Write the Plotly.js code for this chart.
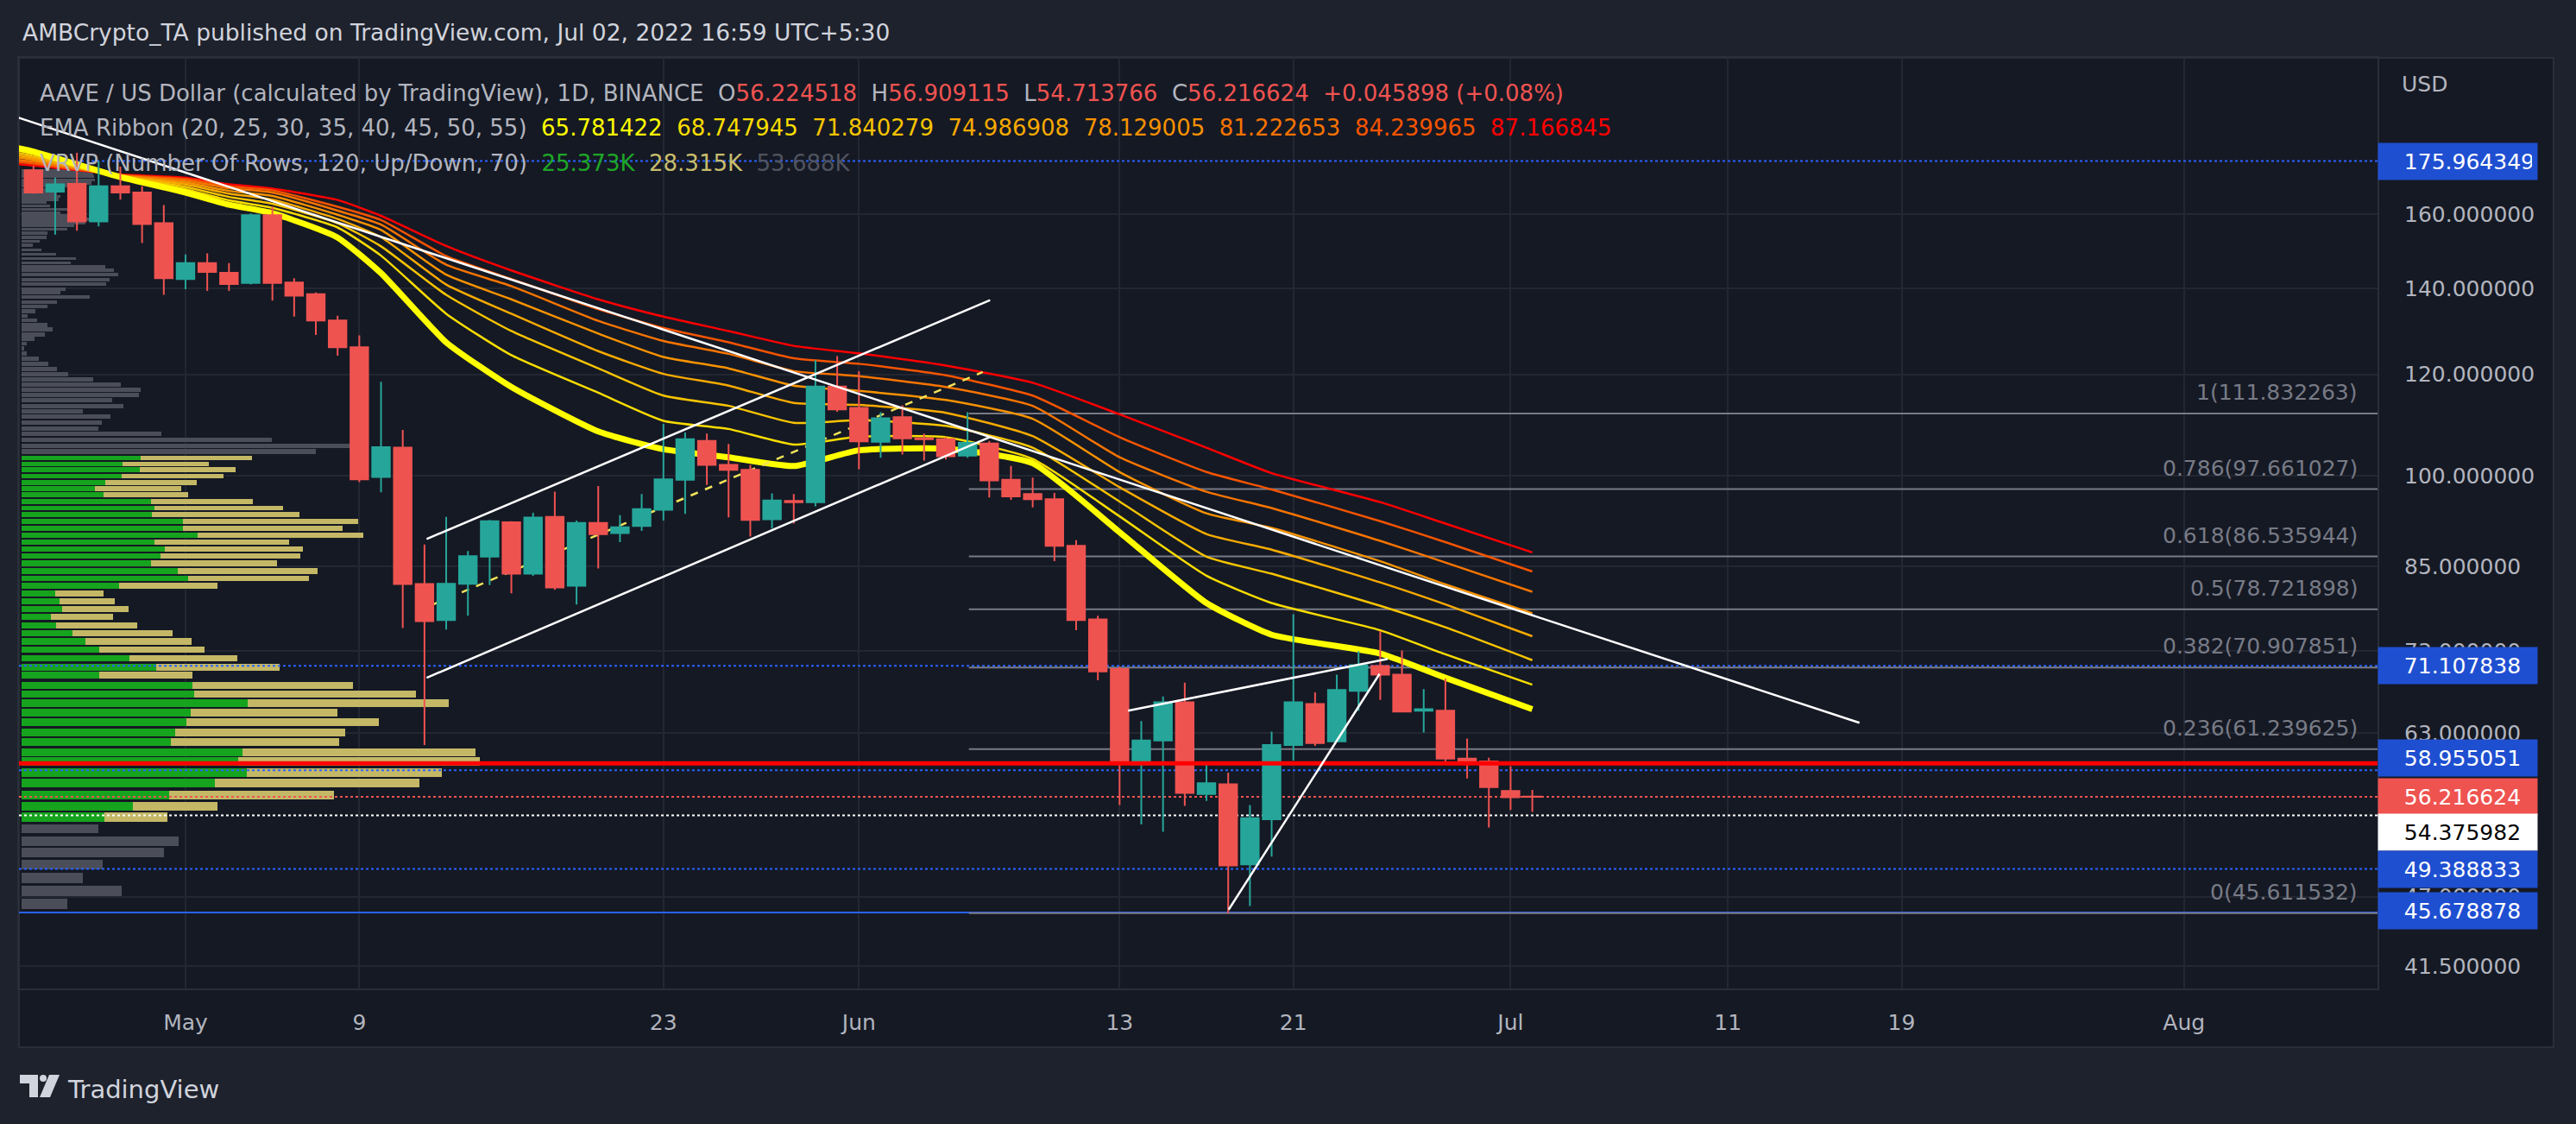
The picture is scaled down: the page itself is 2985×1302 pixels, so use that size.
<!DOCTYPE html>
<html>
<head>
<meta charset="utf-8">
<script src="https://cdn.plot.ly/plotly-3.0.1.min.js"></script>
<style>
  html, body { margin: 0; padding: 0; background: #1e222d; }
  #chart { width: 2985px; height: 1302px; }
</style>
</head>
<body>
<div id="chart"></div>
<script>
// AAVE / USD daily candles
const dates = [
  '2022-04-24','2022-04-25','2022-04-26','2022-04-27','2022-04-28','2022-04-29','2022-04-30',
  '2022-05-01','2022-05-02','2022-05-03','2022-05-04','2022-05-05','2022-05-06','2022-05-07','2022-05-08','2022-05-09','2022-05-10',
  '2022-05-11','2022-05-12','2022-05-13','2022-05-14','2022-05-15','2022-05-16','2022-05-17','2022-05-18','2022-05-19','2022-05-20',
  '2022-05-21','2022-05-22','2022-05-23','2022-05-24','2022-05-25','2022-05-26','2022-05-27','2022-05-28','2022-05-29','2022-05-30','2022-05-31',
  '2022-06-01','2022-06-02','2022-06-03','2022-06-04','2022-06-05','2022-06-06','2022-06-07','2022-06-08','2022-06-09','2022-06-10',
  '2022-06-11','2022-06-12','2022-06-13','2022-06-14','2022-06-15','2022-06-16','2022-06-17','2022-06-18','2022-06-19','2022-06-20',
  '2022-06-21','2022-06-22','2022-06-23','2022-06-24','2022-06-25','2022-06-26','2022-06-27','2022-06-28','2022-06-29','2022-06-30',
  '2022-07-01','2022-07-02'
];
const opens = [
  173.1, 166.6, 168.9, 157.9, 168.2, 166.3, 157.4,
  142.4, 146.5, 144.0, 141.4, 159.7, 141.5, 138.6, 132.2, 126.0, 99.8,
  105.2, 82.35, 77.2, 82.4, 86.5, 92.0, 83.9, 92.9, 82.1, 91.9,
  90.25, 91.4, 94.1, 99.3, 106.5, 102.0, 101.1, 92.5, 95.6, 95.4, 117.4,
  113.0, 106.3, 111.1, 107.0, 106.8, 103.7, 106.0, 99.3, 96.8, 95.9,
  88.2, 77.3, 70.7, 59.6, 62.2, 66.6, 56.5, 57.5, 49.8, 54.0,
  61.7, 66.4, 62.1, 68.0, 71.1, 70.0, 65.6, 65.6, 60.2, 59.9,
  56.8, 56.224518
];
const highs = [
  174.6, 170.8, 178.6, 175.964349, 174.2, 168.2, 162.6,
  148.8, 149.1, 146.5, 160.2, 162.2, 142.6, 139.0, 133.3, 128.7, 118.4,
  108.6, 88.4, 92.9, 87.4, 92.4, 92.2, 93.6, 97.2, 92.3, 98.2,
  93.2, 96.8, 109.8, 108.1, 107.9, 105.9, 102.0, 96.9, 96.8, 123.1, 124.0,
  120.7, 112.1, 113.5, 107.9, 107.2, 112.1, 106.5, 101.8, 99.7, 97.0,
  89.1, 77.8, 71.0, 64.4, 67.3, 69.0, 59.8, 58.7, 55.4, 63.2,
  78.0, 67.8, 70.0, 73.0, 75.7, 73.1, 68.2, 69.5, 62.4, 60.3,
  59.4, 56.909115
];
const lows = [
  166.0, 154.2, 155.3, 156.5, 164.2, 151.9, 138.4,
  139.8, 139.4, 139.4, 141.0, 137.0, 133.1, 128.8, 124.1, 98.9, 97.1,
  76.1, 61.7, 75.9, 77.8, 82.2, 81.0, 83.6, 81.5, 79.4, 84.7,
  88.8, 90.6, 92.3, 93.4, 98.4, 92.85, 89.7, 91.0, 91.8, 94.7, 112.2,
  101.2, 103.3, 103.9, 102.8, 103.0, 103.3, 96.2, 95.8, 94.5, 85.8,
  75.8, 69.3, 55.4, 53.5, 52.8, 55.3, 55.8, 45.611532, 46.2, 50.5,
  60.0, 61.6, 62.0, 65.6, 66.9, 65.4, 63.1, 59.9, 58.1, 53.2,
  54.9, 54.713766
];
const closes = [
  166.3, 168.8, 157.9, 168.2, 166.3, 157.2, 142.6,
  146.5, 144.2, 141.1, 159.7, 141.4, 138.2, 132.2, 126.0, 99.4, 105.3,
  82.35, 77.05, 82.4, 86.6, 92.2, 83.9, 92.8, 81.85, 91.9, 90.06,
  91.2, 94.2, 99.4, 106.8, 102.0, 101.1, 92.4, 95.7, 95.4, 117.4, 112.7,
  106.4, 110.9, 107.0, 106.8, 103.6, 106.1, 99.2, 96.4, 95.9, 88.2,
  77.2, 70.4, 59.9, 62.2, 66.6, 56.6, 57.6, 49.7, 54.1, 61.7,
  66.6, 61.9, 68.1, 71.2, 70.0, 65.5, 65.8, 60.2, 59.9, 57.2,
  56.170726, 56.216624
];

// EMA ribbon (20..55), sampled off the chart
const emaPeriods = [20, 25, 30, 35, 40, 45, 50, 55];
const emaDates = ['2022-04-23','2022-04-24','2022-04-28','2022-05-01','2022-05-03','2022-05-05','2022-05-08','2022-05-10',
  '2022-05-13','2022-05-16','2022-05-20','2022-05-23','2022-05-26','2022-05-29','2022-06-01','2022-06-05','2022-06-09',
  '2022-06-13','2022-06-17','2022-06-20','2022-06-25','2022-06-28','2022-07-02'];
const ema20 = [180.5, 179.0, 171.0, 166.3, 162.7, 160.3, 153.4, 143.9, 127.1, 117.3, 108.3, 104.9, 103.4, 101.8, 104.7, 105.0, 102.3, 90.4, 79.6, 75.2, 72.7, 69.6, 65.781422];
const ema25 = [179.8, 178.3, 171.1, 167.3, 164.0, 161.8, 156.2, 148.5, 133.8, 124.2, 116.1, 110.4, 108.8, 105.8, 107.3, 107.2, 103.1, 93.0, 83.6, 79.6, 75.8, 72.6, 68.747945];
const ema30 = [179.0, 177.6, 171.2, 168.0, 165.0, 163.0, 157.4, 151.0, 138.4, 129.7, 121.3, 115.5, 113.4, 110.0, 110.5, 109.4, 105.2, 95.5, 86.5, 83.9, 79.2, 76.2, 71.840279];
const ema35 = [178.2, 177.0, 171.3, 168.7, 166.0, 164.2, 158.6, 153.5, 141.0, 133.8, 125.1, 120.1, 117.6, 114.0, 113.6, 112.0, 107.4, 98.0, 90.1, 87.6, 82.6, 79.4, 74.986908];
const ema40 = [177.4, 176.4, 171.4, 169.3, 166.8, 165.3, 159.8, 155.5, 143.5, 137.3, 129.1, 123.8, 121.3, 117.6, 116.5, 114.6, 110.8, 100.7, 93.5, 91.1, 85.8, 82.3, 78.129005];
const ema45 = [176.6, 175.8, 171.5, 169.9, 167.6, 166.3, 161.0, 157.0, 146.1, 140.6, 132.1, 127.4, 124.5, 120.7, 119.6, 117.3, 113.4, 103.4, 97.2, 94.4, 89.0, 85.6, 81.222653];
const ema50 = [175.9, 175.2, 171.6, 170.4, 168.2, 167.0, 162.1, 158.3, 148.4, 142.4, 134.9, 130.4, 127.1, 123.5, 122.3, 119.8, 115.5, 107.2, 100.7, 97.6, 92.2, 88.8, 84.239965];
const ema55 = [175.2, 174.6, 171.8, 170.8, 168.8, 167.5, 164.1, 159.5, 151.1, 144.6, 137.3, 133.1, 129.7, 126.3, 124.6, 121.9, 118.2, 111.7, 105.2, 100.5, 95.4, 91.8, 87.166845];
const emaColors = ['#ffff00', '#f9dc00', '#f7c400', '#f7aa00', '#f79200', '#f77400', '#f55400', '#ff0000'];

// Visible-range volume profile (K), value area rows
const vaPrice = [103.3, 102.2, 101.1, 99.97, 98.8, 97.7, 96.7, 95.5, 94.4, 93.3, 92.2, 91.0, 89.9, 88.8, 87.7,
  86.6, 85.5, 84.3, 83.2, 82.1, 81.0, 79.9, 78.8, 77.7, 76.5, 75.4, 74.3, 73.2, 72.1, 70.9,
  69.9, 68.7, 67.6, 66.5, 65.4, 64.3, 63.1, 62.0, 60.9, 59.9, 58.7, 57.6, 56.4, 55.3, 54.2];
const vaUp = [13.93, 11.80, 13.81, 11.68, 9.79, 8.55, 9.60, 15.13, 15.55, 15.24, 18.88, 18.88, 20.58, 15.55, 16.75,
  16.25, 15.13, 18.26, 19.50, 11.41, 3.91, 4.41, 4.72, 3.40, 4.02, 5.96, 7.47, 9.09, 12.61, 15.75,
  9.09, 20.00, 20.20, 26.46, 19.81, 19.27, 17.99, 17.45, 25.90, 25.373, 26.35, 22.63, 17.26, 13.00, 9.67];
const vaDown = [13.11, 10.10, 11.22, 12.00, 10.72, 10.14, 9.90, 11.95, 15.05, 17.30, 20.54, 18.69, 19.43, 15.75, 16.18,
  16.37, 14.78, 16.41, 14.16, 11.53, 5.69, 6.50, 7.78, 7.28, 9.52, 11.72, 12.42, 12.31, 12.65, 14.47,
  10.91, 18.81, 26.00, 23.57, 17.18, 22.55, 19.89, 19.73, 27.30, 28.315, 22.86, 23.95, 19.30, 9.94, 7.39];
// rows outside the value area (total volume only)
const outPrice = [173.0, 172.1, 171.2, 170.1, 169.2, 168.2, 167.1, 166.1, 165.2, 164.3,
  163.4, 162.4, 161.3, 160.3, 159.5, 158.5, 157.6, 156.7, 155.7, 154.7,
  153.4, 152.4, 151.3, 150.0, 148.9, 147.7, 146.6, 145.5, 144.6, 143.5,
  142.3, 141.1, 139.9, 138.9, 137.9, 136.7, 135.6, 134.4, 133.3, 132.3,
  131.1, 130.1, 128.9, 127.9, 126.8, 125.7, 124.6, 123.4, 122.3, 121.1,
  120.0, 118.9, 117.8, 116.7, 115.6, 114.5, 113.4, 112.3, 111.2, 110.0,
  108.9, 107.8, 106.7, 105.6, 104.5,
  53.1, 51.9, 50.9, 49.8, 48.6, 47.5, 46.4];
const outVol = [8.56, 8.39, 8.49, 8.56, 8.22, 7.55, 4.35, 4.18, 4.52, 4.35,
  2.90, 3.37, 5.70, 4.52, 5.53, 8.22, 7.48, 6.13, 5.32, 3.00,
  2.90, 2.16, 1.28, 2.29, 4.01, 6.34, 5.73, 9.77, 10.85, 11.36,
  10.28, 9.87, 5.12, 4.52, 7.95, 4.11, 3.00, 1.58, 0.67, 1.79,
  3.00, 3.61, 2.70, 1.48, 0.57, 0.27, 0.57, 1.99, 3.10, 4.11,
  5.43, 8.36, 11.59, 13.92, 13.72, 10.58, 11.90, 7.14, 10.38, 9.37,
  8.96, 16.34, 29.29, 38.55, 34.44,
  8.98, 18.38, 16.68, 9.48, 7.16, 11.68, 5.34];
const pocPrice = 59.7;

// Fibonacci retracement
const fibRatio = [1, 0.786, 0.618, 0.5, 0.382, 0.236, 0];
const fibPrice = [111.832263, 97.661027, 86.535944, 78.721898, 70.907851, 61.239625, 45.611532];
const fibStart = '2022-06-06 01:30';

// horizontal levels on the price scale
const levelPrice = [175.964349, 71.107838, 58.955051, 56.216624, 54.375982, 49.388833, 45.678878];
const levelBox = ['#1f4fd1', '#1f4fd1', '#1f4fd1', '#ef5350', '#ffffff', '#1f4fd1', '#1f4fd1'];
const levelText = ['#ffffff', '#ffffff', '#ffffff', '#ffffff', '#000000', '#ffffff', '#ffffff'];
const levelLine = ['#2962ff', '#2962ff', '#2962ff', '#ef5350', '#ffffff', '#2962ff', '#2962ff'];
const levelDash = ['dot', 'dot', 'dot', 'dot', 'dot', 'dot', 'solid'];
const levelShift = [0, 0, 14, 0, -20, 0, 2];

// drawn trend lines [x0, y0, x1, y1]
const trendLines = [
  ['2022-04-23 00:00', 191.0, '2022-07-17 01:26', 64.2],
  ['2022-05-12 02:24', 89.3, '2022-06-07 01:00', 137.1],
  ['2022-05-12 02:24', 69.6, '2022-06-07 00:30', 107.2],
  ['2022-06-13 09:22', 65.6, '2022-06-25 08:10', 72.0],
  ['2022-06-18 00:30', 45.9, '2022-06-24 23:17', 70.1]
];
const midLine = ['2022-05-12 09:36', 79.4, '2022-06-06 16:48', 120.5];

const priceTicks = [41.5, 47, 63, 73, 85, 100, 120, 140, 160];
const dateTicks = ['2022-05-01','2022-05-09','2022-05-23','2022-06-01','2022-06-13','2022-06-21','2022-07-01','2022-07-11','2022-07-19','2022-08-01'];
const dateLabels = ['May', '9', '23', 'Jun', '13', '21', 'Jul', '11', '19', 'Aug'];

// ---- geometry
const plotL = 22, plotR = 2755, plotT = 67, plotB = 1145;
const px = v => (v - plotL) / (plotR - plotL);
const py = v => (plotB - v) / (plotB - plotT);
const xRange = ['2022-04-23 08:00', '2022-08-09 21:50'];
const yRange = [Math.log10(39.85), Math.log10(211.8)];
const rowHalf = 0.43;
const rowW = p => Math.log10(p + rowHalf) - Math.log10(p - rowHalf);

const grid = '#232732';
const axisText = '#b2b5be';
const FONT = 'DejaVu Sans';

const traces = [];

// volume profile on the base subplot (x: volume, y: log10 price)
traces.push({
  type: 'bar', orientation: 'h', x: vaUp, y: vaPrice.map(Math.log10), width: vaPrice.map(rowW),
  marker: {color: '#16a31d', line: {width: 0}}, hoverinfo: 'skip'
});
traces.push({
  type: 'bar', orientation: 'h', x: vaDown, y: vaPrice.map(Math.log10), width: vaPrice.map(rowW),
  marker: {color: '#c4b866', line: {width: 0}}, hoverinfo: 'skip'
});
traces.push({
  type: 'bar', orientation: 'h', x: outVol, y: outPrice.map(Math.log10), width: outPrice.map(rowW),
  marker: {color: '#4b4e59', line: {width: 0}}, hoverinfo: 'skip'
});

// level lines, fib lines, ribbon (below candles)
levelPrice.forEach((p, i) => {
  traces.push({
    type: 'scatter', mode: 'lines', x: xRange, y: [p, p], xaxis: 'x2', yaxis: 'y2',
    line: {color: levelLine[i], width: 2, dash: levelDash[i]}, hoverinfo: 'skip'
  });
});
fibPrice.forEach(p => {
  traces.push({
    type: 'scatter', mode: 'lines', x: [fibStart, xRange[1]], y: [p, p], xaxis: 'x2', yaxis: 'y2',
    line: {color: '#787b86', width: 2}, hoverinfo: 'skip'
  });
});
const emaSeries = [ema20, ema25, ema30, ema35, ema40, ema45, ema50, ema55];
for (let i = emaSeries.length - 1; i >= 0; i--) {
  traces.push({
    type: 'scatter', mode: 'lines', x: emaDates, y: emaSeries[i], xaxis: 'x2', yaxis: 'y2',
    line: {color: emaColors[i], width: i === 0 ? 7 : 2.5, shape: 'spline', smoothing: 0.5},
    hoverinfo: 'skip'
  });
}
traces.push({
  type: 'scatter', mode: 'lines', x: [midLine[0], midLine[2]], y: [midLine[1], midLine[3]],
  xaxis: 'x2', yaxis: 'y2', line: {color: '#f2e35a', width: 2.5, dash: 'dash'}, hoverinfo: 'skip'
});

// candles + lines drawn on top
traces.push({
  type: 'candlestick', x: dates, open: opens, high: highs, low: lows, close: closes,
  xaxis: 'x3', yaxis: 'y3', whiskerwidth: 0,
  increasing: {line: {color: '#26a69a', width: 2}, fillcolor: '#26a69a'},
  decreasing: {line: {color: '#ef5350', width: 2}, fillcolor: '#ef5350'},
  hoverinfo: 'skip'
});
traces.push({
  type: 'scatter', mode: 'lines', x: xRange, y: [pocPrice, pocPrice], xaxis: 'x3', yaxis: 'y3',
  line: {color: '#ff0000', width: 5}, hoverinfo: 'skip'
});
trendLines.forEach(t => {
  traces.push({
    type: 'scatter', mode: 'lines', x: [t[0], t[2]], y: [t[1], t[3]], xaxis: 'x3', yaxis: 'y3',
    line: {color: '#ffffff', width: 2.5}, hoverinfo: 'skip'
  });
});

// ---- text
const span = (c, t) => `<span style="color:${c}">${t}</span>`;
const nb = '\u00a0';
const last = dates.length - 1;
const chg = closes[last] - closes[last - 1];
const chgPct = chg / closes[last - 1] * 100;
const red = '#f05350';
const line1 = 'AAVE / US Dollar (calculated by TradingView), 1D, BINANCE' + nb + nb +
  'O' + span(red, opens[last].toFixed(6)) + nb + nb +
  'H' + span(red, highs[last].toFixed(6)) + nb + nb +
  'L' + span(red, lows[last].toFixed(6)) + nb + nb +
  'C' + span(red, closes[last].toFixed(6)) + nb + nb +
  span(red, '+' + chg.toFixed(6) + ' (+' + chgPct.toFixed(2) + '%)');
const line2 = 'EMA Ribbon (' + emaPeriods.join(', ') + ')' +
  emaSeries.map((s, i) => nb + nb + span(emaColors[i], s[s.length - 1].toFixed(6))).join('');
let poc = 0;
vaPrice.forEach((p, i) => { if (vaUp[i] + vaDown[i] > vaUp[poc] + vaDown[poc]) poc = i; });
const line3 = 'VRVP (Number Of Rows, 120, Up/Down, 70)' + nb + nb +
  span('#1ea526', vaUp[poc].toFixed(3) + 'K') + nb + nb +
  span('#c8bd6c', vaDown[poc].toFixed(3) + 'K') + nb + nb +
  span('#50535e', (vaUp[poc] + vaDown[poc]).toFixed(3) + 'K');

const annotations = [];
const note = (x, y, text, opts) => Object.assign({
  xref: 'paper', yref: 'paper', x: x, y: y, text: text, showarrow: false,
  xanchor: 'left', yanchor: 'middle', font: {family: FONT, size: 26, color: axisText}
}, opts || {});

annotations.push(note(px(24), py(37), 'AMBCrypto_TA published on TradingView.com, Jul 02, 2022 16:59 UTC+5:30',
  {font: {family: FONT, size: 26.5, color: '#d1d4dc'}}));
annotations.push(note(px(44), py(108), line1));
annotations.push(note(px(44), py(148), line2));
annotations.push(note(px(44), py(189), line3));
annotations.push(note(px(2781), py(97), 'USD', {font: {family: FONT, size: 25, color: axisText}}));
annotations.push(note(px(76), py(1262), 'TradingView', {font: {family: FONT, size: 29, color: '#d1d4dc'}}));

fibPrice.forEach((p, i) => {
  annotations.push({
    xref: 'paper', yref: 'y', x: px(2734), y: Math.log10(p), yshift: 8,
    text: fibRatio[i] + '(' + p.toFixed(6) + ')', showarrow: false,
    xanchor: 'right', yanchor: 'bottom', font: {family: FONT, size: 25, color: '#787b86'}
  });
});
levelPrice.forEach((p, i) => {
  annotations.push({
    xref: 'paper', yref: 'y', x: 1, y: Math.log10(p), yshift: levelShift[i],
    text: nb + nb + nb + p.toFixed(6), showarrow: false, xanchor: 'left', yanchor: 'middle',
    align: 'left', width: 172, height: 30, borderpad: 6, bgcolor: levelBox[i],
    font: {family: FONT, size: 25, color: levelText[i]}
  });
});

// ---- shapes: chart container + TradingView mark
const P = (x, y) => px(x).toFixed(5) + ',' + py(y).toFixed(5);
const shapes = [
  {type: 'rect', xref: 'paper', yref: 'paper', x0: px(22), x1: px(2959), y0: py(1213), y1: py(67),
   fillcolor: '#151924', line: {color: '#2a2e39', width: 2}, layer: 'below'},
  {type: 'path', xref: 'paper', yref: 'paper', layer: 'above', fillcolor: '#d1d4dc', line: {width: 0},
   path: 'M' + P(23, 1245) + 'L' + P(44, 1245) + 'L' + P(44, 1271) + 'L' + P(34, 1271) + 'L' + P(34, 1255) + 'L' + P(23, 1255) + 'Z'},
  {type: 'circle', xref: 'paper', yref: 'paper', layer: 'above', fillcolor: '#d1d4dc', line: {width: 0},
   x0: px(46), x1: px(54), y0: py(1253), y1: py(1245)},
  {type: 'path', xref: 'paper', yref: 'paper', layer: 'above', fillcolor: '#d1d4dc', line: {width: 0},
   path: 'M' + P(57, 1245) + 'L' + P(69, 1245) + 'L' + P(58, 1271) + 'L' + P(46, 1271) + 'Z'}
];

const hiddenAxis = {
  showgrid: false, zeroline: false, showline: false, showticklabels: false, ticks: ''
};

const layout = {
  width: 2985, height: 1302,
  margin: {l: plotL, r: 2985 - plotR, t: plotT, b: 1302 - plotB, pad: 0},
  paper_bgcolor: '#1e222d', plot_bgcolor: '#151924',
  showlegend: false, barmode: 'stack', bargap: 0, boxgap: 0.19, boxgroupgap: 0,
  font: {family: FONT, size: 25, color: axisText},
  xaxis: Object.assign({range: [-0.3, 276], fixedrange: true}, hiddenAxis),
  yaxis: Object.assign({range: yRange, fixedrange: true}, hiddenAxis),
  xaxis2: {
    type: 'date', overlaying: 'x', anchor: 'y2', side: 'bottom', range: xRange,
    rangeslider: {visible: false},
    tickvals: dateTicks, ticktext: dateLabels, ticks: '', ticklabelstandoff: 16,
    showgrid: true, gridcolor: grid, gridwidth: 2, zeroline: false,
    showline: true, linecolor: '#2a2e39', linewidth: 2, mirror: true,
    tickfont: {family: FONT, size: 25, color: axisText}
  },
  yaxis2: {
    type: 'log', overlaying: 'y', anchor: 'x2', side: 'right', range: yRange,
    tickvals: priceTicks, ticktext: priceTicks.map(v => v.toFixed(6)), ticks: '', ticklabelstandoff: 24,
    showgrid: true, gridcolor: grid, gridwidth: 2, zeroline: false,
    showline: true, linecolor: '#2a2e39', linewidth: 2, mirror: true,
    tickfont: {family: FONT, size: 25, color: axisText}
  },
  xaxis3: Object.assign({type: 'date', overlaying: 'x', anchor: 'y3', range: xRange,
    rangeslider: {visible: false}}, hiddenAxis),
  yaxis3: Object.assign({type: 'log', overlaying: 'y', anchor: 'x3', range: yRange}, hiddenAxis),
  shapes: shapes,
  annotations: annotations
};

Plotly.newPlot('chart', traces, layout, {displayModeBar: false, staticPlot: true});
</script>
</body>
</html>
